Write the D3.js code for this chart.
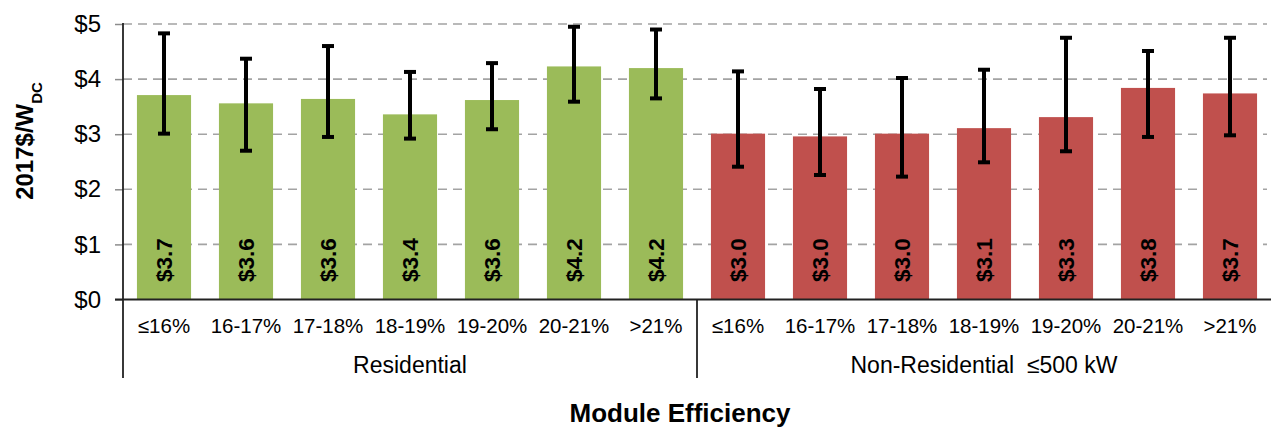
<!DOCTYPE html>
<html>
<head>
<meta charset="utf-8">
<script src="https://cdn.jsdelivr.net/npm/d3@7"></script>
<style>
  html, body { margin: 0; padding: 0; background: #fff; }
  svg { display: block; font-family: Arial, "Liberation Sans", sans-serif; }
</style>
</head>
<body>
<svg id="chart" width="1271" height="427"></svg>
<script>
const categories = ["≤16%", "16-17%", "17-18%", "18-19%", "19-20%", "20-21%", ">21%"];
const groups = ["Residential", "Non-Residential  ≤500 kW"];
const resMedian = [3.71, 3.56, 3.64, 3.36, 3.62, 4.23, 4.20];
const resLow = [3.01, 2.70, 2.95, 2.92, 3.09, 3.59, 3.65];
const resHigh = [4.83, 4.37, 4.60, 4.13, 4.29, 4.95, 4.90];
const nonresMedian = [3.01, 2.96, 3.01, 3.11, 3.31, 3.84, 3.74];
const nonresLow = [2.41, 2.26, 2.23, 2.49, 2.69, 2.95, 2.98];
const nonresHigh = [4.14, 3.82, 4.02, 4.17, 4.75, 4.51, 4.75];
const yTicks = [0, 1, 2, 3, 4, 5];
const colors = ["#9BBB59", "#C0504D"];

const medians = [resMedian, nonresMedian];
const lows = [resLow, nonresLow];
const highs = [resHigh, nonresHigh];

const data = [];
groups.forEach((g, gi) => {
  categories.forEach((c, ci) => {
    data.push({ key: gi + "|" + ci, group: g, gi, cat: c, v: medians[gi][ci], lo: lows[gi][ci], hi: highs[gi][ci] });
  });
});

const svg = d3.select("#chart");
const mLeft = 123, mRight = 1271, mTop = 24, mBottom = 299.5;

const x = d3.scaleBand().domain(data.map(d => d.key)).range([mLeft, mRight]).paddingInner(0.34).paddingOuter(0.17);
const y = d3.scaleLinear().domain([0, 5]).range([mBottom, mTop]);

// gridlines
svg.append("g").selectAll("line").data(yTicks.filter(t => t > 0)).join("line")
  .attr("x1", mLeft).attr("x2", mRight - 4)
  .attr("y1", d => y(d)).attr("y2", d => y(d))
  .attr("stroke", "#a3a3a3").attr("stroke-width", 1.6).attr("stroke-dasharray", "9,6");

// y axis
const yAxis = svg.append("g").attr("transform", `translate(${mLeft},0)`)
  .call(d3.axisLeft(y).tickValues(yTicks).tickSize(8).tickPadding(14).tickFormat(d => "$" + d));
yAxis.select(".domain").remove();
yAxis.selectAll(".tick line").attr("stroke", "#8c8c8c").attr("stroke-width", 1.5);
yAxis.selectAll(".tick text").attr("font-size", 24).attr("fill", "#000")
  .attr("font-family", "Arial, 'Liberation Sans', sans-serif");

// bars
svg.append("g").selectAll("rect").data(data).join("rect")
  .attr("x", d => x(d.key)).attr("width", x.bandwidth())
  .attr("y", d => y(d.v)).attr("height", d => y(0) - y(d.v))
  .attr("fill", d => colors[d.gi]);

// error bars
const eb = svg.append("g").selectAll("g").data(data).join("g");
eb.append("line")
  .attr("x1", d => x(d.key) + x.bandwidth() / 2).attr("x2", d => x(d.key) + x.bandwidth() / 2)
  .attr("y1", d => y(d.hi)).attr("y2", d => y(d.lo))
  .attr("stroke", "#000").attr("stroke-width", 4);
["hi", "lo"].forEach(k => {
  eb.append("line")
    .attr("x1", d => x(d.key) + x.bandwidth() / 2 - 6).attr("x2", d => x(d.key) + x.bandwidth() / 2 + 6)
    .attr("y1", d => y(d[k])).attr("y2", d => y(d[k]))
    .attr("stroke", "#000").attr("stroke-width", 4);
});

// value labels
svg.append("g").selectAll("text").data(data).join("text")
  .attr("transform", d => `translate(${x(d.key) + x.bandwidth() / 2},282) rotate(-90)`)
  .attr("dy", "0.36em")
  .attr("text-anchor", "start")
  .attr("font-size", 22.5).attr("font-weight", "bold").attr("fill", "#000")
  .text(d => "$" + d3.format(".1f")(d.v));

// x axis line
svg.append("line").attr("x1", mLeft - 8).attr("x2", mRight).attr("y1", mBottom).attr("y2", mBottom)
  .attr("stroke", "#222").attr("stroke-width", 1.8);
// y axis line
svg.append("line").attr("x1", mLeft).attr("x2", mLeft).attr("y1", mTop - 1).attr("y2", 378)
  .attr("stroke", "#222").attr("stroke-width", 1.8);
// group separator
const sepX = x(data[7].key) - (x.step() - x.bandwidth()) / 2;
svg.append("line").attr("x1", sepX).attr("x2", sepX)
  .attr("y1", mBottom).attr("y2", 378)
  .attr("stroke", "#222").attr("stroke-width", 1.8);

// category labels
svg.append("g").selectAll("text").data(data).join("text")
  .attr("x", d => x(d.key) + x.bandwidth() / 2).attr("y", 333)
  .attr("text-anchor", "middle").attr("font-size", 20.5).attr("fill", "#000")
  .text(d => d.cat);

// group labels
groups.forEach((g, gi) => {
  const first = x(gi + "|0"), last = x(gi + "|" + (categories.length - 1)) + x.bandwidth();
  svg.append("text").attr("x", (first + last) / 2).attr("y", 373)
    .attr("text-anchor", "middle").attr("font-size", 23).attr("fill", "#000")
    .style("white-space", "pre")
    .text(g);
});

// axis titles
svg.append("text").attr("x", 680).attr("y", 422)
  .attr("text-anchor", "middle").attr("font-size", 26).attr("font-weight", "bold")
  .text("Module Efficiency");

const yt = svg.append("text").attr("transform", "translate(33,141) rotate(-90)")
  .attr("text-anchor", "middle").attr("font-size", 24).attr("font-weight", "bold");
yt.append("tspan").text("2017$/W");
yt.append("tspan").attr("font-size", 15).attr("dy", 9).text("DC");
</script>
</body>
</html>
